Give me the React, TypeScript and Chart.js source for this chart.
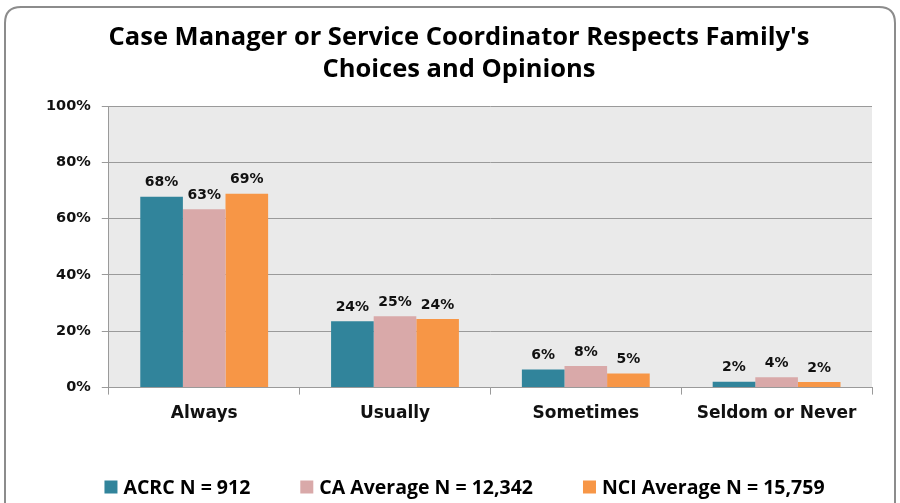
import React, { useEffect, useRef } from "react";
import { Chart, registerables } from "chart.js";

Chart.register(...registerables);

const categories = ["Always", "Usually", "Sometimes", "Seldom or Never"];
const acrc = [67.8, 23.6, 6.4, 2.1];
const caAvg = [63.3, 25.3, 7.7, 3.7];
const nciAvg = [68.8, 24.4, 5.0, 2.0];
const acrcLabels = ["68%", "24%", "6%", "2%"];
const caLabels = ["63%", "25%", "8%", "4%"];
const nciLabels = ["69%", "24%", "5%", "2%"];
const seriesNames = ["ACRC N = 912", "CA Average N = 12,342", "NCI Average N = 15,759"];
const seriesColors = ["#31849B", "#D9A9A9", "#F79646"];
const titleLines = ["Case Manager or Service Coordinator Respects Family's", "Choices and Opinions"];
const yTicks = [0, 20, 40, 60, 80, 100];

const frame = {
  id: "frame",
  beforeDraw(chart: any) {
    const { ctx, chartArea } = chart;
    ctx.save();
    ctx.fillStyle = "#ffffff";
    ctx.fillRect(0, 0, chart.width, chart.height);
    ctx.fillStyle = "#EAEAEA";
    ctx.fillRect(chartArea.left, chartArea.top, chartArea.right - chartArea.left, chartArea.bottom - chartArea.top);
    ctx.strokeStyle = "#8c8c8c";
    ctx.lineWidth = 2;
    const x = 5, y = 7, w = 890, h = 520, r = 16;
    ctx.beginPath();
    ctx.moveTo(x + r, y);
    ctx.lineTo(x + w - r, y);
    ctx.quadraticCurveTo(x + w, y, x + w, y + r);
    ctx.lineTo(x + w, y + h);
    ctx.lineTo(x, y + h);
    ctx.lineTo(x, y + r);
    ctx.quadraticCurveTo(x, y, x + r, y);
    ctx.stroke();
    ctx.restore();
  },
};

const labelsPlugin = {
  id: "barLabels",
  afterDatasetsDraw(chart: any) {
    const { ctx } = chart;
    const all = [acrcLabels, caLabels, nciLabels];
    ctx.save();
    ctx.fillStyle = "#111";
    ctx.font = "bold 14px 'DejaVu Sans'";
    ctx.textAlign = "center";
    ctx.textBaseline = "bottom";
    chart.data.datasets.forEach((ds: any, i: number) => {
      const meta = chart.getDatasetMeta(i);
      meta.data.forEach((bar: any, j: number) => {
        ctx.fillText(all[i][j], bar.x, bar.y - 7);
      });
    });
    ctx.restore();
  },
};

const titlePlugin = {
  id: "customTitle",
  afterDraw(chart: any) {
    const { ctx } = chart;
    ctx.save();
    ctx.font = "bold 25.5px 'Open Sans'";
    ctx.fillStyle = "#000";
    ctx.textAlign = "center";
    ctx.textBaseline = "middle";
    titleLines.forEach((line, i) => ctx.fillText(line, 459, 38 + i * 32));
    ctx.restore();
  },
};

const legendPlugin = {
  id: "customLegend",
  afterDraw(chart: any) {
    const { ctx } = chart;
    ctx.save();
    ctx.font = "bold 19.5px 'Open Sans'";
    ctx.textBaseline = "middle";
    ctx.textAlign = "left";
    const box = 13, gapBox = 6, gapItem = 50;
    const widths = chart.data.datasets.map((ds: any) => box + gapBox + ctx.measureText(ds.label).width);
    const total = widths.reduce((a: number, b: number) => a + b, 0) + gapItem * (widths.length - 1);
    let x = 464.5 - total / 2;
    const y = 487;
    chart.data.datasets.forEach((ds: any, i: number) => {
      ctx.fillStyle = ds.backgroundColor;
      ctx.fillRect(x, y - box / 2, box, box);
      ctx.fillStyle = "#000";
      ctx.fillText(ds.label, x + box + gapBox, y + 1);
      x += widths[i] + gapItem;
    });
    ctx.restore();
  },
};

export default function App() {
  const ref = useRef<HTMLCanvasElement>(null);
  useEffect(() => {
    const chart = new Chart(ref.current!, {
      type: "bar",
      data: {
        labels: categories,
        datasets: [
          { label: seriesNames[0], data: acrc, backgroundColor: seriesColors[0] },
          { label: seriesNames[1], data: caAvg, backgroundColor: seriesColors[1] },
          { label: seriesNames[2], data: nciAvg, backgroundColor: seriesColors[2] },
        ],
      },
      options: {
        animation: false,
        responsive: false,
        datasets: { bar: { barPercentage: 1, categoryPercentage: 0.67 } },
        layout: { padding: { left: 35, right: 28, top: 106, bottom: 70 } },
        plugins: {
          title: { display: false },
          legend: { display: false },
          tooltip: { enabled: false },
        },
        scales: {
          x: {
            grid: { display: true, drawOnChartArea: false, drawTicks: true, tickLength: 7, color: "#9a9a9a", offset: true },
            border: { display: true, color: "#9a9a9a" },
            ticks: { color: "#111", font: { family: "DejaVu Sans", weight: "bold", size: 17 }, padding: 9 },
          },
          y: {
            min: 0,
            max: 100,
            afterBuildTicks: (axis: any) => { axis.ticks = yTicks.map((v) => ({ value: v })); },
            grid: { color: "#9a9a9a", tickLength: 7 },
            border: { display: true, color: "#9a9a9a" },
            ticks: { color: "#111", font: { family: "DejaVu Sans", weight: "bold", size: 14.5 }, padding: 11, callback: (v: any) => v + "%" },
          },
        },
      },
      plugins: [frame, labelsPlugin, titlePlugin, legendPlugin],
    });
    return () => chart.destroy();
  }, []);
  return (
    <div style={{ position: "fixed", left: 0, top: 0, width: 900, height: 503 }}>
      <canvas ref={ref} width={900} height={503} style={{ width: 900, height: 503 }} />
    </div>
  );
}
